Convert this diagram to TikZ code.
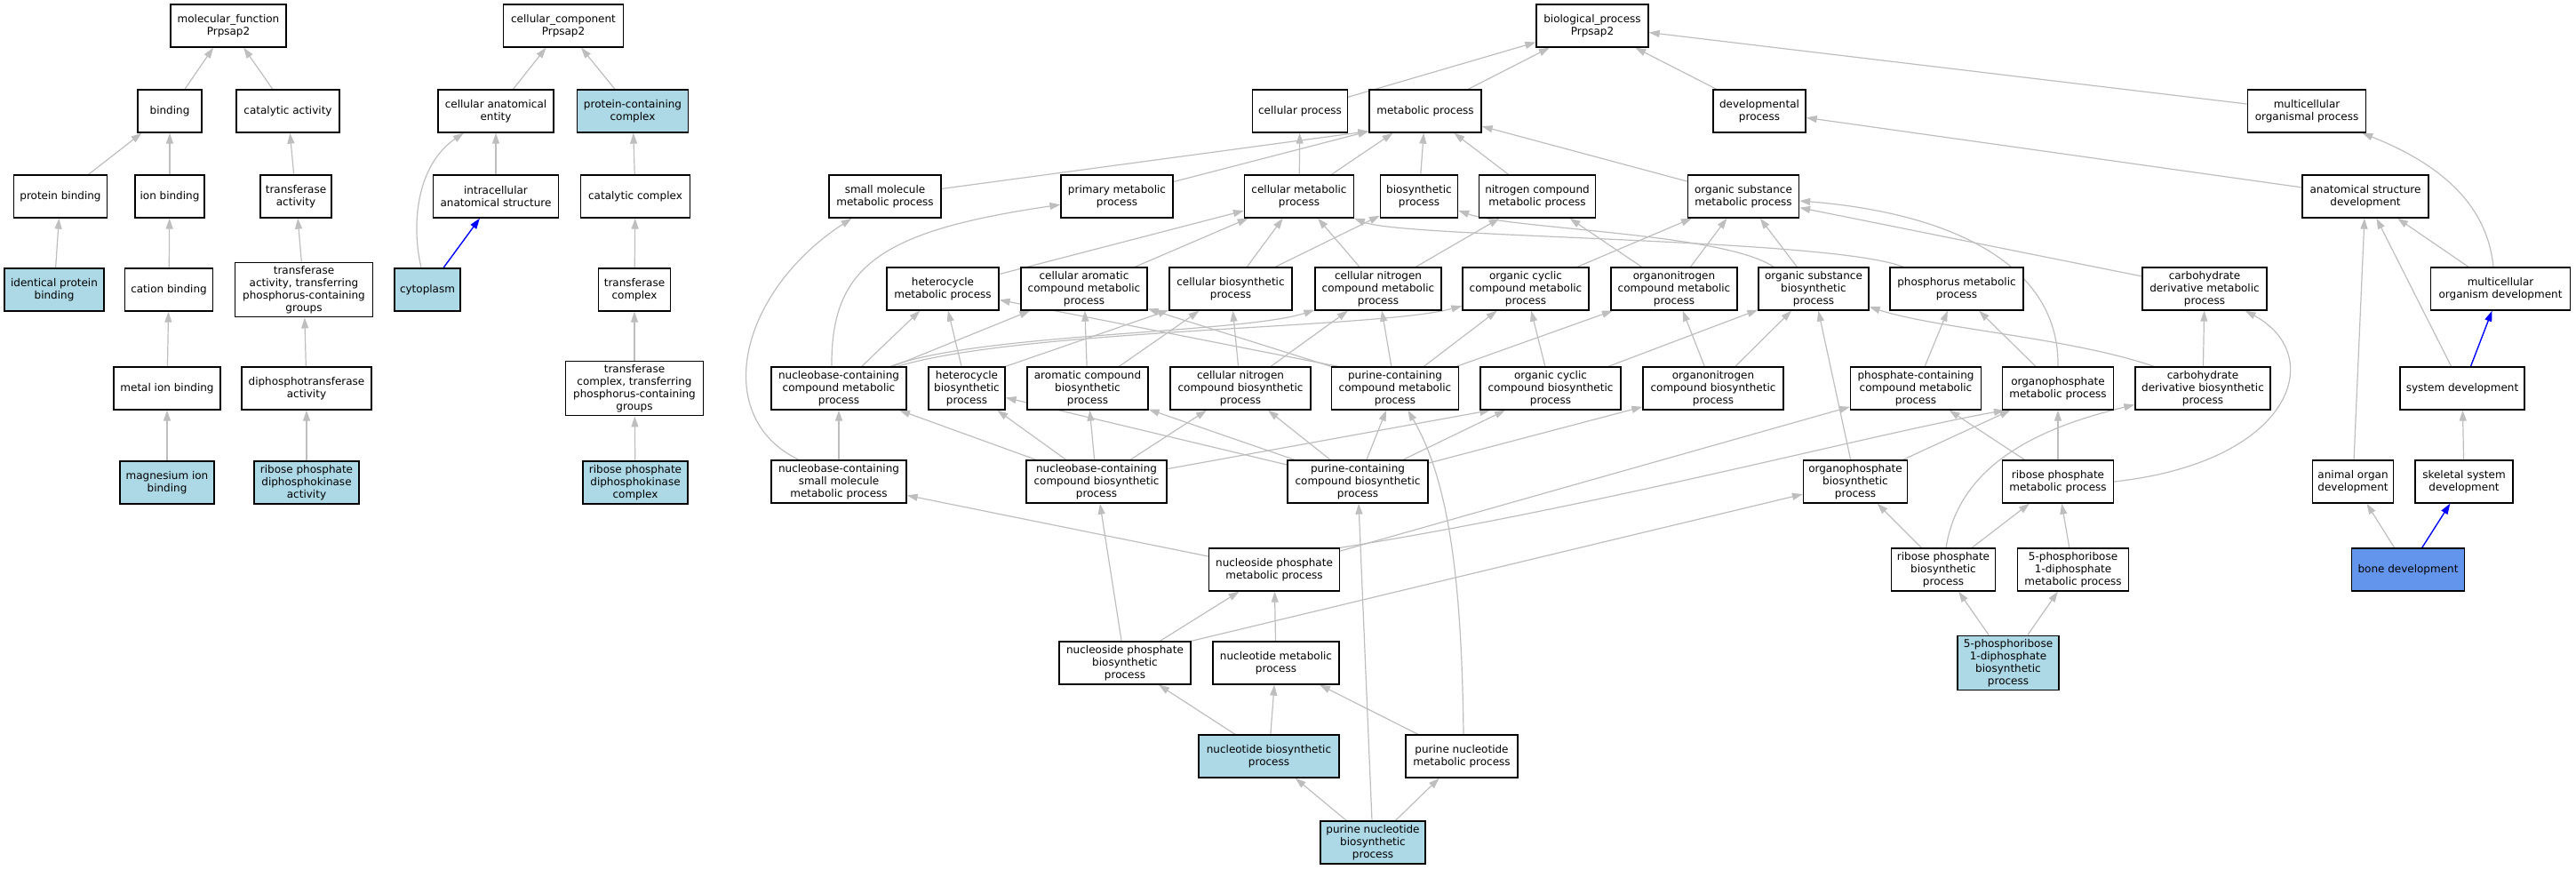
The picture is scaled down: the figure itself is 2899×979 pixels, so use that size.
\documentclass[tikz,border=0pt]{standalone}
\usepackage{fontspec}
\setmainfont{DejaVu Sans}
\usetikzlibrary{arrows.meta,backgrounds}
\definecolor{hitblue}{RGB}{173,216,230}
\definecolor{boneblue}{RGB}{100,149,237}
\definecolor{linkgray}{RGB}{190,190,190}
\tikzset{
	goterm/.style={draw=black, line width=1.3pt, fill=white, align=center, inner xsep=1pt, inner ysep=4pt, minimum height=48pt, font=\fontsize{12}{14}\selectfont},
	hitterm/.style={goterm, fill=hitblue},
	boneterm/.style={goterm, fill=boneblue},
	link/.style={draw=linkgray, line width=1.2pt, -{Triangle[length=12pt,width=8pt]}},
	bluelink/.style={draw=blue, line width=1.4pt, -{Triangle[length=12pt,width=8pt]}}
}

\begin{document}
\begin{tikzpicture}[x=1pt, y=-1pt]
		%%%%% START %%%%%
		\useasboundingbox (0,0) rectangle (2899,979);
		
		% molecular function
		\node[goterm, minimum width=130pt] (mf) at (257,29) {molecular\_function\\Prpsap2};
		\node[goterm, minimum width=72pt] (binding) at (191,125) {binding};
		\node[goterm, minimum width=116pt] (catact) at (324,125) {catalytic activity};
		\node[goterm, minimum width=105pt] (protbind) at (68,221) {protein binding};
		\node[goterm, minimum width=78pt] (ionbind) at (191,221) {ion binding};
		\node[goterm, minimum width=80pt] (transact) at (333,221) {transferase\\activity};
		\node[hitterm, minimum width=112pt] (identbind) at (61,326) {identical protein\\binding};
		\node[goterm, minimum width=99pt] (cationbind) at (190,326) {cation binding};
		\node[goterm, minimum width=155pt] (transphos) at (342,326) {transferase\\activity, transferring\\phosphorus-containing\\groups};
		\node[goterm, minimum width=120pt] (metalion) at (188,437) {metal ion binding};
		\node[goterm, minimum width=146pt] (diphos) at (345,437) {diphosphotransferase\\activity};
		\node[hitterm, minimum width=106pt] (mgbind) at (188,543) {magnesium ion\\binding};
		\node[hitterm, minimum width=118pt] (rpdkact) at (345,543) {ribose phosphate\\diphosphokinase\\activity};
		
		% cellular component
		\node[goterm, minimum width=135pt] (cc) at (634,29) {cellular\_component\\Prpsap2};
		\node[goterm, minimum width=130pt] (cae) at (558,125) {cellular anatomical\\entity};
		\node[hitterm, minimum width=125pt] (pcc) at (712,125) {protein-containing\\complex};
		\node[goterm, minimum width=141pt] (ias) at (558,221) {intracellular\\anatomical structure};
		\node[goterm, minimum width=123pt] (catcomp) at (715,221) {catalytic complex};
		\node[hitterm, minimum width=74pt] (cyto) at (481,326) {cytoplasm};
		\node[goterm, minimum width=81pt] (transcomp) at (714,326) {transferase\\complex};
		\node[goterm, minimum width=155pt] (transphoscomp) at (714,437) {transferase\\complex, transferring\\phosphorus-containing\\groups};
		\node[hitterm, minimum width=118pt] (rpdkcomp) at (715,543) {ribose phosphate\\diphosphokinase\\complex};
		
		% biological process
		\node[goterm, minimum width=126pt] (bp) at (1792,29) {biological\_process\\Prpsap2};
		
		\node[goterm, minimum width=107pt] (cellproc) at (1463,125) {cellular process};
		\node[goterm, minimum width=126pt] (metab) at (1604,125) {metabolic process};
		\node[goterm, minimum width=104pt] (devproc) at (1980,125) {developmental\\process};
		\node[goterm, minimum width=133pt] (mcorgproc) at (2596,125) {multicellular\\organismal process};
		
		\node[goterm, minimum width=126pt] (smallmol) at (996,221) {small molecule\\metabolic process};
		\node[goterm, minimum width=126pt] (primmet) at (1257,221) {primary metabolic\\process};
		\node[goterm, minimum width=123pt] (cellmet) at (1462,221) {cellular metabolic\\process};
		\node[goterm, minimum width=87pt] (biosyn) at (1597,221) {biosynthetic\\process};
		\node[goterm, minimum width=131pt] (nitromet) at (1730,221) {nitrogen compound\\metabolic process};
		\node[goterm, minimum width=125pt] (orgsubmet) at (1962,221) {organic substance\\metabolic process};
		\node[goterm, minimum width=142pt] (anatdev) at (2662,221) {anatomical structure\\development};
		
		\node[goterm, minimum width=126pt] (hetmet) at (1061,325) {heterocycle\\metabolic process};
		\node[goterm, minimum width=142pt] (cellarom) at (1220,325) {cellular aromatic\\compound metabolic\\process};
		\node[goterm, minimum width=138pt] (cellbio) at (1385,325) {cellular biosynthetic\\process};
		\node[goterm, minimum width=142pt] (cellnitmet) at (1551,325) {cellular nitrogen\\compound metabolic\\process};
		\node[goterm, minimum width=142pt] (orgcycmet) at (1717,325) {organic cyclic\\compound metabolic\\process};
		\node[goterm, minimum width=142pt] (orgnitmet) at (1884,325) {organonitrogen\\compound metabolic\\process};
		\node[goterm, minimum width=124pt] (orgsubbio) at (2041,325) {organic substance\\biosynthetic\\process};
		\node[goterm, minimum width=150pt] (phosmet) at (2202,325) {phosphorus metabolic\\process};
		\node[goterm, minimum width=140pt] (carbmet) at (2481,325) {carbohydrate\\derivative metabolic\\process};
		\node[goterm, minimum width=157pt] (mcorgdev) at (2814,325) {multicellular\\organism development};
		
		\node[goterm, minimum width=152pt] (nucmet) at (944,437) {nucleobase-containing\\compound metabolic\\process};
		\node[goterm, minimum width=86pt] (hetbio) at (1088,437) {heterocycle\\biosynthetic\\process};
		\node[goterm, minimum width=136pt] (arombio) at (1224,437) {aromatic compound\\biosynthetic\\process};
		\node[goterm, minimum width=158pt] (cellnitbio) at (1396,437) {cellular nitrogen\\compound biosynthetic\\process};
		\node[goterm, minimum width=143pt] (purmet) at (1570,437) {purine-containing\\compound metabolic\\process};
		\node[goterm, minimum width=158pt] (orgcycbio) at (1745,437) {organic cyclic\\compound biosynthetic\\process};
		\node[goterm, minimum width=158pt] (orgnitbio) at (1928,437) {organonitrogen\\compound biosynthetic\\process};
		\node[goterm, minimum width=147pt] (phoscont) at (2156,437) {phosphate-containing\\compound metabolic\\process};
		\node[goterm, minimum width=125pt] (orgphosmet) at (2316,437) {organophosphate\\metabolic process};
		\node[goterm, minimum width=152pt] (carbbio) at (2479,437) {carbohydrate\\derivative biosynthetic\\process};
		\node[goterm, minimum width=140pt] (sysdev) at (2771,437) {system development};
		
		\node[goterm, minimum width=152pt] (nucsmall) at (944,542) {nucleobase-containing\\small molecule\\metabolic process};
		\node[goterm, minimum width=158pt] (nucbio) at (1234,542) {nucleobase-containing\\compound biosynthetic\\process};
		\node[goterm, minimum width=158pt] (purbio) at (1528,542) {purine-containing\\compound biosynthetic\\process};
		\node[goterm, minimum width=117pt] (orgphosbio) at (2088,542) {organophosphate\\biosynthetic\\process};
		\node[goterm, minimum width=125pt] (ribmet) at (2316,542) {ribose phosphate\\metabolic process};
		\node[goterm, minimum width=91pt] (organdev) at (2648,542) {animal organ\\development};
		\node[goterm, minimum width=110pt] (skeldev) at (2773,542) {skeletal system\\development};
		
		\node[goterm, minimum width=147pt] (nucphosmet) at (1434,641) {nucleoside phosphate\\metabolic process};
		\node[goterm, minimum width=117pt] (ribbio) at (2187,641) {ribose phosphate\\biosynthetic\\process};
		\node[goterm, minimum width=125pt] (prppmet) at (2333,641) {5-phosphoribose\\1-diphosphate\\metabolic process};
		\node[boneterm, minimum width=127pt] (bonedev) at (2710,641) {bone development};
		
		\node[goterm, minimum width=148pt] (nucphosbio) at (1266,746) {nucleoside phosphate\\biosynthetic\\process};
		\node[goterm, minimum width=142pt] (nuctmet) at (1436,746) {nucleotide metabolic\\process};
		\node[hitterm, minimum width=114pt] (prppbio) at (2260,746) {5-phosphoribose\\1-diphosphate\\biosynthetic\\process};
		
		\node[hitterm, minimum width=158pt] (nuctbio) at (1428,851) {nucleotide biosynthetic\\process};
		\node[goterm, minimum width=126pt] (purnucmet) at (1645,851) {purine nucleotide\\metabolic process};
		
		\node[hitterm, minimum width=118pt] (purnucbio) at (1545,948) {purine nucleotide\\biosynthetic\\process};
		
		\begin{scope}[on background layer]
		% molecular function
		\draw[link] (binding) -- (mf);
		\draw[link] (catact) -- (mf);
		\draw[link] (protbind) -- (binding);
		\draw[link] (ionbind) -- (binding);
		\draw[link] (transact) -- (catact);
		\draw[link] (identbind) -- (protbind);
		\draw[link] (cationbind) -- (ionbind);
		\draw[link] (transphos) -- (transact);
		\draw[link] (metalion) -- (cationbind);
		\draw[link] (diphos) -- (transphos);
		\draw[link] (mgbind) -- (metalion);
		\draw[link] (rpdkact) -- (diphos);
		
		% cellular component
		\draw[link] (cae) -- (cc);
		\draw[link] (pcc) -- (cc);
		\draw[link] (ias) -- (cae);
		\draw[link] (catcomp) -- (pcc);
		\draw[link] ([xshift=-7pt]cyto.north) .. controls (462,250) and (470,185) .. (cae);
		\draw[bluelink] (cyto) -- (ias);
		\draw[link] (transcomp) -- (catcomp);
		\draw[link] (transphoscomp) -- (transcomp);
		\draw[link] (rpdkcomp) -- (transphoscomp);
		
		% biological process
		\draw[link] (cellproc) -- (bp);
		\draw[link] (metab) -- (bp);
		\draw[link] (devproc) -- (bp);
		\draw[link] (mcorgproc) -- (bp);
		
		\draw[link] (smallmol) -- ([yshift=2pt]metab.south west);
		\draw[link] (primmet) -- ([yshift=2pt]metab.south west);
		\draw[link] (cellmet) -- (cellproc);
		\draw[link] (cellmet) -- (metab);
		\draw[link] (biosyn) -- (metab);
		\draw[link] (nitromet) -- (metab);
		\draw[link] (orgsubmet) -- (metab);
		\draw[link] (anatdev) -- (devproc);
		\draw[link] ([xshift=-8pt]mcorgdev.north) .. controls (2800,240) and (2760,190) .. (mcorgproc);
		\draw[link] (mcorgdev) -- (anatdev);
		
		\draw[link] (hetmet) -- (cellmet);
		\draw[link] (cellarom) -- (cellmet);
		\draw[link] (cellbio) -- (cellmet);
		\draw[link] (cellbio) -- (biosyn);
		\draw[link] (cellnitmet) -- (cellmet);
		\draw[link] (cellnitmet) -- (nitromet);
		\draw[link] ([xshift=-60pt]phosmet.north) .. controls (2060,268) and (1580,268) .. (cellmet);
		\draw[link] (orgcycmet) -- (orgsubmet);
		\draw[link] (orgnitmet) -- (nitromet);
		\draw[link] (orgnitmet) -- (orgsubmet);
		\draw[link] (orgsubbio) -- (orgsubmet);
		\draw[link] ([xshift=-45pt]orgsubbio.north) .. controls (1940,262) and (1700,258) .. (biosyn);
		\draw[link] (carbmet) -- (orgsubmet);
		\draw[link] (orgphosmet.north) .. controls (2318,300) and (2200,240) .. (orgsubmet);
		
		\draw[link] ([xshift=-8pt]nucmet.north) .. controls (935,300) and (990,260) .. (primmet);
		\draw[link] (nucmet) -- (hetmet);
		\draw[link] (nucmet) -- (cellarom);
		\draw[link] ([xshift=58pt]nucmet.north) .. controls (1100,375) and (1400,375) .. (cellnitmet);
		\draw[link] ([xshift=66pt]nucmet.north) .. controls (1150,370) and (1550,370) .. (orgcycmet);
		\draw[link] (hetbio) -- (hetmet);
		\draw[link] (hetbio.north east) -- (cellbio);
		\draw[link] (arombio) -- (cellarom);
		\draw[link] (arombio) -- (cellbio);
		\draw[link] (cellnitbio) -- (cellbio);
		\draw[link] (cellnitbio) -- (cellnitmet);
		\draw[link] ([xshift=8pt]purmet.north west) -- (hetmet);
		\draw[link] (purmet.north west) -- (cellarom);
		\draw[link] (purmet) -- (cellnitmet);
		\draw[link] (purmet) -- (orgcycmet);
		\draw[link] (purmet) -- (orgnitmet);
		\draw[link] (orgcycbio) -- (orgcycmet);
		\draw[link] (orgcycbio) -- (orgsubbio);
		\draw[link] (orgnitbio) -- (orgnitmet);
		\draw[link] (orgnitbio) -- (orgsubbio);
		\draw[link] (phoscont) -- (phosmet);
		\draw[link] (orgphosmet) -- (phosmet);
		\draw[link] (carbbio) -- (carbmet);
		\draw[link] ([xshift=-55pt]carbbio.north) .. controls (2330,380) and (2180,370) .. (orgsubbio);
		\draw[bluelink] (sysdev) -- (mcorgdev);
		\draw[link] (sysdev) -- (anatdev);
		
		\draw[link] (nucsmall) -- (nucmet);
		\draw[link] ([xshift=-45pt]nucsmall.north) .. controls (800,470) and (830,330) .. (smallmol);
		\draw[link] (nucbio) -- (nucmet);
		\draw[link] (nucbio) -- (hetbio);
		\draw[link] (nucbio) -- (arombio);
		\draw[link] (nucbio) -- (cellnitbio);
		\draw[link] (nucbio) -- ([xshift=12pt]orgcycbio.south west);
		\draw[link] (purbio) -- (hetbio);
		\draw[link] (purbio) -- (arombio);
		\draw[link] (purbio) -- (cellnitbio);
		\draw[link] (purbio) -- (purmet);
		\draw[link] (purbio) -- (orgcycbio);
		\draw[link] (purbio) -- (orgnitbio);
		\draw[link] (orgphosbio) -- (orgsubbio);
		\draw[link] (orgphosbio) -- (orgphosmet);
		\draw[link] (ribmet) -- (phoscont);
		\draw[link] (ribmet) -- (orgphosmet);
		\draw[link] (ribmet.east) .. controls (2580,520) and (2620,400) .. (carbmet);
		\draw[link] (organdev) -- (anatdev);
		\draw[link] (skeldev) -- (sysdev);
		
		\draw[link] (nucphosmet) -- (nucsmall);
		\draw[link] (nucphosmet) -- (phoscont);
		\draw[link] (nucphosmet.north east) .. controls (1800,570) and (2100,490) .. ([xshift=3pt]orgphosmet.south west);
		\draw[link] (ribbio) -- (orgphosbio);
		\draw[link] (ribbio) -- (ribmet);
		\draw[link] ([xshift=3pt]ribbio.north) .. controls (2205,520) and (2300,480) .. (carbbio);
		\draw[link] (prppmet) -- (ribmet);
		\draw[link] (bonedev) -- (organdev);
		\draw[bluelink] (bonedev) -- (skeldev);
		
		\draw[link] (nucphosbio) -- (nucbio);
		\draw[link] (nucphosbio) -- (nucphosmet);
		\draw[link] (nucphosbio.north east) -- (orgphosbio);
		\draw[link] (nuctmet) -- (nucphosmet);
		\draw[link] (prppbio) -- (ribbio);
		\draw[link] (prppbio) -- (prppmet);
		
		\draw[link] (nuctbio) -- (nucphosbio);
		\draw[link] (nuctbio) -- (nuctmet);
		\draw[link] (purnucmet) -- (nuctmet);
		\draw[link] ([xshift=2pt]purnucmet.north) .. controls (1645,650) and (1630,540) .. (purmet);
		
		\draw[link] (purnucbio) -- (nuctbio);
		\draw[link] (purnucbio) -- (purnucmet);
		\draw[link] (purnucbio) -- (purbio);
		\end{scope}
		%%%%% END %%%%%
\end{tikzpicture}
\end{document}
